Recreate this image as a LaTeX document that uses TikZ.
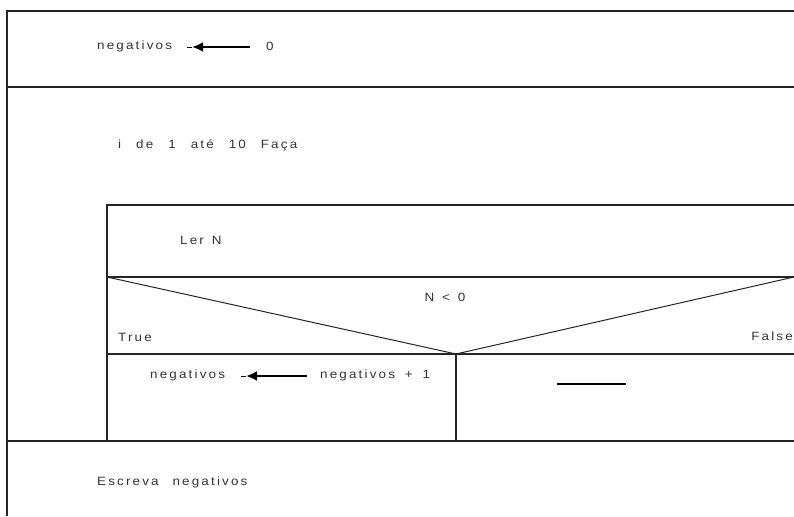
\documentclass[tikz,border=0pt]{standalone}
\usepackage{fontspec}
\setmainfont{Liberation Sans}[LetterSpace=18,FakeStretch=1.12]
\usetikzlibrary{arrows.meta}
\newcommand{\wgap}{\hspace{15pt}}
\begin{document}
\begin{tikzpicture}[x=1pt,y=-1pt,
  frame/.style={line width=1.2pt,draw=black!85},
  txt/.style={anchor=west,inner sep=0pt,font=\fontsize{12}{14}\selectfont,text=black!80},
  assign/.style={line width=2.2pt,-{Latex[length=11pt,width=10pt]}},
  thinlead/.style={line width=0.8pt}]
\useasboundingbox (0,0) rectangle (794,516);
% outer structure
\coordinate (oTL) at (7,11);
\coordinate (oBL) at (7,516);
\coordinate (oTR) at (794,11);
\draw[frame] (oTR) -- (oTL) -- (oBL);
\coordinate (s1L) at (7,87);  \coordinate (s1R) at (794,87);
\draw[frame] (s1L) -- (s1R);
% inner loop body
\coordinate (iTL) at (107,205); \coordinate (iTR) at (794,205);
\coordinate (iML) at (107,277); \coordinate (iMR) at (794,277);
\coordinate (iBL) at (107,441); \coordinate (iBR) at (794,441);
\coordinate (oEL) at (7,441);
\draw[frame] (iTR) -- (iTL) -- (iBL);
\draw[frame] (iML) -- (iMR);
\coordinate (cBL) at (107,354); \coordinate (cBR) at (794,354);
\coordinate (cV) at (456,354); \coordinate (cVB) at (456,441);
\draw[frame] (cBL) -- (cBR);
\draw[frame,line width=1pt] (iML) -- (cV) -- (iMR);
\draw[frame] (cV) -- (cVB);
\draw[frame] (oEL) -- (iBR);
% texts
\node[txt] (n1) at (97,46) {negativos};
\node[txt] (z0) at (266,46) {0};
\coordinate (a1h) at (187,47);
\coordinate (a1t) at (250,47);
\coordinate (a1tip) at (192,47);
\draw[assign] (a1t) -- (a1tip);
\draw[thinlead] (a1h) -- (a1tip);
\node[txt] (loop) at (118,145) {i\wgap{}de\wgap{}1\wgap{}até\wgap{}10\wgap{}Faça};
\node[txt] (ler) at (180,240) {Ler\, N};
\node[txt,anchor=center] (cond) at (445,297) {N\, <\, 0};
\node[txt] (tr) at (118,337) {True};
\node[txt,anchor=east] (fa) at (793,336) {False};
\node[txt] (n2) at (150,375) {negativos};
\node[txt] (n3) at (320,375) {negativos\hspace{4pt} +\hspace{4pt} 1};
\coordinate (a2h) at (241,376);
\coordinate (a2t) at (307,376);
\coordinate (a2tip) at (246,376);
\draw[assign] (a2t) -- (a2tip);
\draw[thinlead] (a2h) -- (a2tip);
\coordinate (d1) at (557,384); \coordinate (d2) at (626,384);
\draw[line width=2.4pt] (d1) -- (d2);
\node[txt] (esc) at (97,482) {Escreva\hspace{8pt} negativos};
\end{tikzpicture}
\end{document}
